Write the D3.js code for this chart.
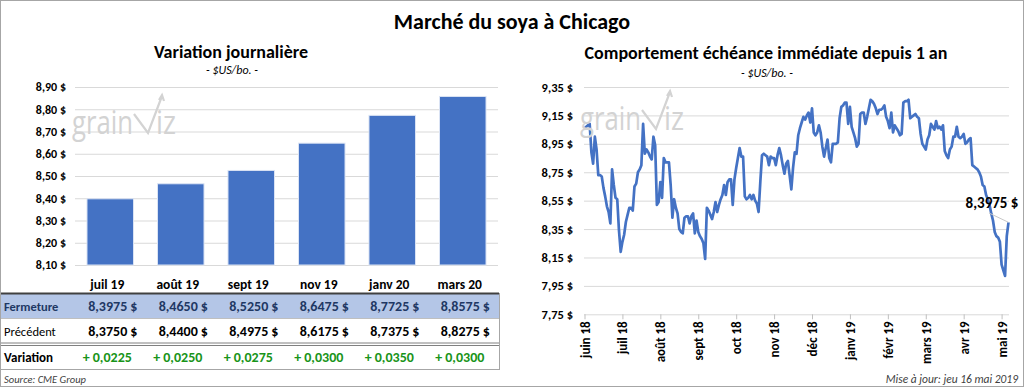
<!DOCTYPE html>
<html>
<head>
<meta charset="utf-8">
<script src="https://cdn.jsdelivr.net/npm/d3@7"></script>
<style>
  body { margin: 0; background: #fff; }
  svg { display: block; font-family: Carlito, Calibri, Lato, sans-serif; }
</style>
</head>
<body>
<div id="chart"></div>
<script>
// contrats (gauche)
var months = ["juil 19", "août 19", "sept 19", "nov 19", "janv 20", "mars 20"];
var closeVals = [8.3975, 8.4650, 8.5250, 8.6475, 8.7725, 8.8575];
var prevVals = [8.3750, 8.4400, 8.4975, 8.6175, 8.7375, 8.8275];
var changeVals = [0.0225, 0.0250, 0.0275, 0.0300, 0.0350, 0.0300];
var leftTicks = [8.10, 8.20, 8.30, 8.40, 8.50, 8.60, 8.70, 8.80, 8.90];

// échéance immédiate, séances depuis 1 an (droite)
var prices = [
  9.06, 9.07, 9.08, 9.09, 8.89, 8.81, 9.00, 8.91, 8.73, 8.73,
  8.72, 8.64, 8.58, 8.51, 8.47, 8.39, 8.77, 8.66, 8.57, 8.56,
  8.34, 8.19, 8.26, 8.31, 8.40, 8.45, 8.50, 8.50, 8.48, 8.65,
  8.67, 8.75, 8.77, 8.80, 9.09, 8.88, 8.91, 8.89, 8.86, 8.84,
  9.00, 8.94, 8.52, 8.54, 8.68, 8.57, 8.85, 8.82, 8.82, 8.82,
  8.66, 8.43, 8.56, 8.50, 8.46, 8.35, 8.33, 8.32, 8.43, 8.44,
  8.44, 8.39, 8.44, 8.46, 8.32, 8.41, 8.33, 8.30, 8.28, 8.25,
  8.14, 8.50, 8.48, 8.45, 8.42, 8.47, 8.54, 8.47, 8.52, 8.56,
  8.59, 8.66, 8.59, 8.68, 8.70, 8.70, 8.52, 8.70, 8.78, 8.85,
  8.92, 8.86, 8.86, 8.58, 8.56, 8.57, 8.59, 8.56, 8.59, 8.55,
  8.53, 8.47, 8.68, 8.87, 8.88, 8.87, 8.86, 8.80, 8.86, 8.85,
  8.85, 8.80, 8.87, 8.92, 8.87, 8.80, 8.74, 8.81, 8.83, 8.73,
  8.63, 8.78, 8.89, 8.88, 9.01, 9.06, 9.10, 9.14, 9.12, 9.15,
  9.17, 9.10, 9.20, 9.03, 9.01, 9.03, 9.08, 9.03, 8.93, 8.86,
  8.92, 8.98, 8.85, 8.82, 8.95, 8.95, 8.95, 8.96, 9.13, 9.21,
  9.22, 9.24, 9.24, 9.09, 9.21, 9.07, 9.03, 8.99, 8.93, 8.95,
  9.16, 9.17, 9.17, 9.09, 9.14, 9.20, 9.26, 9.25, 9.23, 9.20,
  9.16, 9.19, 9.19, 9.20, 9.22, 9.14, 9.11, 9.06, 9.17, 9.03,
  9.08, 9.06, 9.04, 9.01, 9.02, 9.24, 9.25, 9.25, 9.26, 9.13,
  9.14, 9.15, 9.16, 9.14, 9.13, 9.02, 8.95, 8.93, 8.91, 8.98,
  9.01, 9.09, 9.07, 9.05, 9.11, 9.06, 9.07, 9.05, 9.08, 8.90,
  8.87, 8.85, 8.91, 8.93, 9.00, 9.00, 9.07, 9.00, 8.99, 9.00,
  9.02, 8.95, 8.96, 8.98, 8.99, 8.80, 8.79, 8.78, 8.77, 8.75,
  8.72, 8.66, 8.65, 8.59, 8.56, 8.52, 8.46, 8.41, 8.33, 8.30,
  8.29, 8.26, 8.10, 8.06, 8.02, 8.30, 8.3975
];
var monthLabels = ["juin 18", "juil 18", "août 18", "sept 18", "oct 18", "nov 18",
  "déc 18", "janv 19", "févr 19", "mars 19", "avr 19", "mai 19"];
var labelEvery = 22;
var rightTicks = [7.75, 7.95, 8.15, 8.35, 8.55, 8.75, 8.95, 9.15, 9.35];

var width = 1024, height = 387;
var blue = "#4472C4", grid = "#d9d9d9";
var fr = function(v, n) { return v.toFixed(n).replace(".", ","); };

var svg = d3.select("#chart").append("svg")
  .attr("width", width)
  .attr("height", height);

svg.append("rect")
  .attr("x", 0.5).attr("y", 0.5)
  .attr("width", width - 1).attr("height", height - 1)
  .attr("fill", "#fff").attr("stroke", "#a6a6a6");

svg.append("text")
  .attr("x", 512).attr("y", 29)
  .attr("text-anchor", "middle")
  .style("font-size", "22px").style("font-weight", "bold")
  .text("Marché du soya à Chicago");

// logo en filigrane
function logo(g) {
  g.append("text").attr("x", 0).attr("y", 0)
    .attr("textLength", 61).attr("lengthAdjust", "spacingAndGlyphs")
    .style("font-size", "32px").style("font-weight", 400)
    .style("font-family", "'Open Sans', sans-serif")
    .attr("fill", "#d3d3d3").text("grain");
  g.append("path")
    .attr("d", "M62,-20 L76,-1 L90,-38 M87,-34 L90,-39 L92,-33")
    .attr("fill", "none").attr("stroke", "#d3d3d3").attr("stroke-width", 2.2);
  g.append("text").attr("x", 84).attr("y", 0)
    .attr("textLength", 20).attr("lengthAdjust", "spacingAndGlyphs")
    .style("font-size", "32px").style("font-weight", 400)
    .style("font-family", "'Open Sans', sans-serif")
    .attr("fill", "#d3d3d3").text("iz");
}

// ---------- gauche : barres ----------
var x = d3.scaleBand().domain(months).range([75, 498]).paddingInner(0.34).paddingOuter(0.17);
var y = d3.scaleLinear().domain([8.10, 8.90]).range([265, 87]);

svg.append("text").attr("x", 231).attr("y", 58).attr("text-anchor", "middle")
  .style("font-size", "18px").style("font-weight", "bold").text("Variation journalière");
svg.append("text").attr("x", 232).attr("y", 74).attr("text-anchor", "middle")
  .style("font-size", "12px").style("font-style", "italic").text("- $US/bo. -");

var gl = svg.append("g");
gl.append("g").attr("class", "grid")
  .attr("transform", "translate(75,0)")
  .call(d3.axisLeft(y).tickValues(leftTicks).tickSize(-423).tickFormat(""))
  .call(function(g) { g.select(".domain").remove(); g.selectAll("line").attr("stroke", grid); });
gl.append("g")
  .attr("transform", "translate(66,0)")
  .call(d3.axisLeft(y).tickValues(leftTicks).tickSize(0).tickPadding(0)
    .tickFormat(function(d) { return fr(d, 2) + " $"; }))
  .call(function(g) {
    g.select(".domain").remove();
    g.selectAll("text").style("font-size", "12px").style("font-weight", "bold")
      .style("font-family", "Carlito, Calibri, Lato, sans-serif").attr("fill", "#000");
  });

logo(svg.append("g").attr("transform", "translate(72,134)"));

gl.selectAll(".bar").data(months).enter().append("rect")
  .attr("class", "bar")
  .attr("x", function(d) { return x(d); })
  .attr("y", function(d, i) { return y(closeVals[i]); })
  .attr("width", x.bandwidth())
  .attr("height", function(d, i) { return y(8.10) - y(closeVals[i]); })
  .attr("fill", blue).attr("stroke", "#dbe4f4").attr("stroke-width", 1);

// tableau
var tb = svg.append("g");
tb.append("rect").attr("x", 1).attr("y", 294).attr("width", 498).attr("height", 24).attr("fill", "#b4c6e7");
tb.append("line").attr("x1", 1).attr("x2", 499).attr("y1", 293.5).attr("y2", 293.5)
  .attr("stroke", "#404040").attr("stroke-width", 2);
tb.append("line").attr("x1", 1).attr("x2", 499).attr("y1", 318.5).attr("y2", 318.5).attr("stroke", "#bfbfbf");
tb.append("line").attr("x1", 1).attr("x2", 499).attr("y1", 343).attr("y2", 343).attr("stroke", "#808080");
tb.append("line").attr("x1", 1).attr("x2", 499).attr("y1", 345.5).attr("y2", 345.5).attr("stroke", "#808080");
tb.append("line").attr("x1", 1).attr("x2", 499).attr("y1", 369.5).attr("y2", 369.5).attr("stroke", "#a6a6a6");
tb.append("line").attr("x1", 499.5).attr("x2", 499.5).attr("y1", 293).attr("y2", 370).attr("stroke", "#a6a6a6");

var cx = function(d) { return x(d) + x.bandwidth() / 2; };
tb.selectAll(".hdr").data(months).enter().append("text")
  .attr("x", function(d) { return cx(d) - 3; }).attr("y", 289)
  .attr("text-anchor", "middle")
  .style("font-size", "13.5px").style("font-weight", "bold").text(function(d) { return d; });

var rows = [
  { label: "Fermeture", vals: closeVals, y: 311, color: "#1f3864", lw: "bold" },
  { label: "Précédent", vals: prevVals, y: 336, color: "#000", lw: "normal" }
];
rows.forEach(function(r) {
  tb.append("text").attr("x", 4).attr("y", r.y)
    .style("font-size", "12.5px").style("font-weight", r.lw).attr("fill", r.color).text(r.label);
  tb.selectAll(null).data(months).enter().append("text")
    .attr("x", function(d) { return cx(d) + 17; }).attr("y", r.y)
    .attr("text-anchor", "end")
    .style("font-size", "14px").style("font-weight", "bold").attr("fill", r.color)
    .text(function(d, i) { return fr(r.vals[i], 4); });
  tb.selectAll(null).data(months).enter().append("text")
    .attr("x", function(d) { return cx(d) + 27; }).attr("y", r.y)
    .attr("text-anchor", "end")
    .style("font-size", "14px").style("font-weight", "bold").attr("fill", r.color)
    .text("$");
});
tb.append("text").attr("x", 4).attr("y", 362)
  .style("font-size", "13px").style("font-weight", "bold").text("Variation");
tb.selectAll(".chg").data(months).enter().append("text")
  .attr("x", function(d) { return cx(d) - 3; }).attr("y", 362)
  .attr("text-anchor", "middle")
  .style("font-size", "14px").style("font-weight", "bold").attr("fill", "#199419")
  .text(function(d, i) { return "+ " + fr(changeVals[i], 4); });

svg.append("text").attr("x", 4).attr("y", 383)
  .style("font-size", "10.5px").style("font-style", "italic").attr("fill", "#404040")
  .text("Source: CME Group");

// ---------- droite : ligne ----------
var xr = d3.scaleLinear().domain([0, prices.length - 1]).range([584.5, 1008.5]);
var yr = d3.scaleLinear().domain([7.75, 9.35]).range([314.3, 87]);

svg.append("text").attr("x", 766).attr("y", 59).attr("text-anchor", "middle")
  .style("font-size", "18px").style("font-weight", "bold")
  .text("Comportement échéance immédiate depuis 1 an");
svg.append("text").attr("x", 767).attr("y", 77).attr("text-anchor", "middle")
  .style("font-size", "12px").style("font-style", "italic").text("- $US/bo. -");

var gr = svg.append("g");
gr.append("g")
  .attr("transform", "translate(584,0)")
  .call(d3.axisLeft(yr).tickValues(rightTicks.slice(1)).tickSize(-425).tickFormat(""))
  .call(function(g) { g.select(".domain").remove(); g.selectAll("line").attr("stroke", grid); });
gr.append("g")
  .attr("transform", "translate(573,0)")
  .call(d3.axisLeft(yr).tickValues(rightTicks).tickSize(0).tickPadding(0)
    .tickFormat(function(d) { return fr(d, 2) + " $"; }))
  .call(function(g) {
    g.select(".domain").remove();
    g.selectAll("text").style("font-size", "12.5px").style("font-weight", "bold")
      .style("font-family", "Carlito, Calibri, Lato, sans-serif").attr("fill", "#000");
  });

var tickIdx = monthLabels.map(function(d, i) { return i * labelEvery; });
gr.append("g")
  .attr("transform", "translate(0,314.3)")
  .call(d3.axisBottom(xr).tickValues(tickIdx).tickSize(5).tickPadding(0)
    .tickFormat(function(d, i) { return monthLabels[i]; }))
  .call(function(g) {
    g.select(".domain").attr("stroke", grid).attr("d", "M584,0.5H1009");
    g.selectAll("line").attr("stroke", "#bfbfbf");
    g.selectAll("text")
      .style("font-size", "13px").style("font-weight", "bold")
      .style("font-family", "Carlito, Calibri, Lato, sans-serif").attr("fill", "#000")
      .attr("text-anchor", "end")
      .attr("transform", "rotate(-90)")
      .attr("x", -7).attr("y", 0).attr("dy", "0.35em");
  });

logo(svg.append("g").attr("transform", "translate(580,130)"));

gr.append("path")
  .datum(prices)
  .attr("fill", "none").attr("stroke", blue).attr("stroke-width", 2.7)
  .attr("stroke-linejoin", "round")
  .attr("d", d3.line().x(function(d, i) { return xr(i); }).y(function(d) { return yr(d); }));

var last = prices.length - 1;
gr.append("line")
  .attr("x1", 989).attr("y1", 213)
  .attr("x2", xr(last)).attr("y2", yr(prices[last]))
  .attr("stroke", "#c8c8c8");
gr.append("text").attr("x", 992).attr("y", 208).attr("text-anchor", "middle")
  .style("font-size", "15px").style("font-weight", "bold")
  .text(fr(prices[last], 4) + " $");

svg.append("text").attr("x", 1018).attr("y", 383).attr("text-anchor", "end")
  .style("font-size", "11.5px").style("font-style", "italic").attr("fill", "#404040")
  .text("Mise à jour: jeu 16 mai 2019");
</script>
</body>
</html>
